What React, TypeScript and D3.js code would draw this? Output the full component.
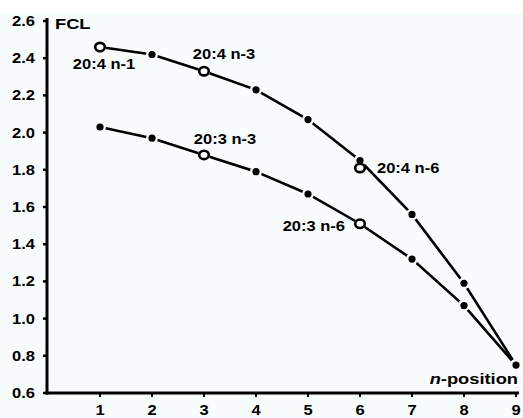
import React from 'react';
import * as d3 from 'd3';

const positions = [1, 2, 3, 4, 5, 6, 7, 8, 9];
const fcl204 = [2.46, 2.42, 2.33, 2.23, 2.07, 1.85, 1.56, 1.19, 0.75];
const fcl203 = [2.03, 1.97, 1.88, 1.79, 1.67, 1.51, 1.32, 1.07, 0.75];
const yTicks = [0.6, 0.8, 1.0, 1.2, 1.4, 1.6, 1.8, 2.0, 2.2, 2.4, 2.6];
const xTicks = [1, 2, 3, 4, 5, 6, 7, 8, 9];

// highlighted fatty acids (open circles)
const marks = [
  { label: '20:4 n-1', pos: 1, value: 2.46, dx: 4, dy: 22, anchor: 'middle' },
  { label: '20:4 n-3', pos: 3, value: 2.33, dx: 20, dy: -12, anchor: 'middle' },
  { label: '20:3 n-3', pos: 3, value: 1.88, dx: 21, dy: -11, anchor: 'middle' },
  { label: '20:4 n-6', pos: 6, value: 1.81, dx: 17, dy: 5, anchor: 'start' },
  { label: '20:3 n-6', pos: 6, value: 1.51, dx: -15, dy: 7, anchor: 'end' },
];

const W = 523;
const H = 418;
const bg = '#f8fcfc';
const font = '"Liberation Sans", Arial, sans-serif';
const sx = 1.18; // text is a bit wide in the original

const Txt = ({ x, y, anchor = 'start', size = 14, italic = false, children }: any) => (
  <text
    transform={`translate(${x},${y}) scale(${sx},1)`}
    textAnchor={anchor}
    fontFamily={font}
    fontWeight="bold"
    fontSize={size}
    fill="#000"
  >
    {children}
  </text>
);

const App = () => {
  const x = d3.scaleLinear().domain([0, 9]).range([48, 516]);
  const y = d3.scaleLinear().domain([0.6, 2.6]).range([393, 21]);

  const line = d3.line<number>()
    .x((d, i) => x(positions[i]))
    .y(d => y(d));

  const series = [fcl204, fcl203];

  return (
    <svg width={W} height={H} style={{ position: 'absolute', left: 0, top: 0 }}>
      <rect x={0} y={0} width={W} height={H} fill="#fff" />
      <rect x={0} y={13} width={W} height={H - 13} fill={bg} />

      {series.map((s, i) => (
        <path key={`l-${i}`} d={line(s) || ''} fill="none" stroke="#000" strokeWidth={2.6} />
      ))}

      {series.map((s, i) =>
        s.map((v, j) => (
          <g key={`d-${i}-${j}`}>
            <circle cx={x(positions[j])} cy={y(v)} r={6} fill={bg} />
            <circle cx={x(positions[j])} cy={y(v)} r={3.6} fill="#000" />
          </g>
        ))
      )}

      {marks.map((m, i) => (
        <g key={`m-${i}`}>
          <ellipse cx={x(m.pos)} cy={y(m.value)} rx={4.8} ry={4.2} fill={bg} stroke="#000" strokeWidth={2.6} />
          <Txt x={x(m.pos) + m.dx} y={y(m.value) + m.dy} anchor={m.anchor}>{m.label}</Txt>
        </g>
      ))}

      {/* axes */}
      <line x1={47} x2={47} y1={18} y2={394.5} stroke="#000" strokeWidth={3} />
      <line x1={45.5} x2={519} y1={393} y2={393} stroke="#000" strokeWidth={3} />
      {yTicks.map(t => (
        <g key={`yt-${t}`}>
          <line x1={43} x2={47} y1={y(t)} y2={y(t)} stroke="#000" strokeWidth={2.5} />
          <Txt x={35} y={y(t) + 5} anchor="end">{t.toFixed(1)}</Txt>
        </g>
      ))}
      {xTicks.map(t => (
        <g key={`xt-${t}`}>
          <line x1={x(t)} x2={x(t)} y1={393} y2={397} stroke="#000" strokeWidth={2} />
          <Txt x={x(t)} y={415} anchor="middle">{t}</Txt>
        </g>
      ))}

      <Txt x={55} y={28.5} size={15.5}>FCL</Txt>
      <Txt x={518} y={383.5} anchor="end" size={15.5}>
        <tspan fontStyle="italic">n</tspan>-position
      </Txt>
    </svg>
  );
};

export default App;
